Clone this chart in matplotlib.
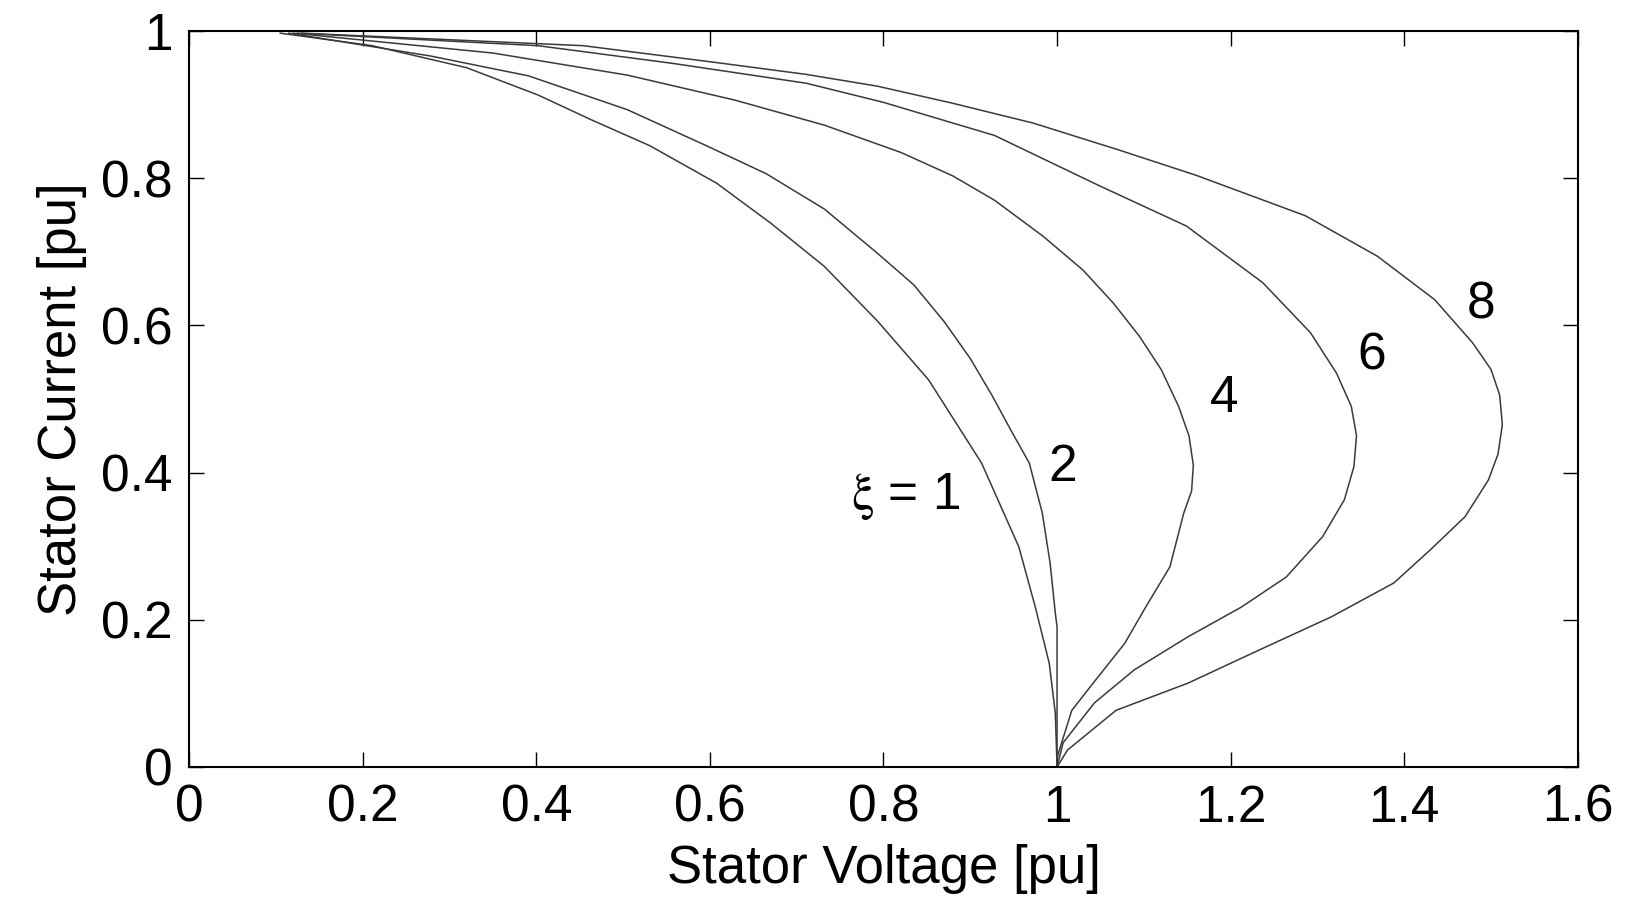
import matplotlib
matplotlib.use("Agg")
import matplotlib.pyplot as plt

plt.rcParams['font.family'] = ['Liberation Sans', 'DejaVu Sans']
plt.rcParams['mathtext.fontset'] = 'stix'

# curves: stator voltage (x) vs stator current (y)
x1 = [0.105, 0.211, 0.32, 0.402, 0.464, 0.531, 0.608, 0.67, 0.732, 0.793, 0.852, 0.913, 0.956, 0.975, 0.991, 0.998, 1.0]
y1 = [0.997, 0.98, 0.95, 0.913, 0.879, 0.844, 0.793, 0.739, 0.68, 0.606, 0.526, 0.413, 0.299, 0.217, 0.141, 0.073, 0.0]

x2 = [0.115, 0.278, 0.391, 0.505, 0.598, 0.665, 0.732, 0.793, 0.835, 0.87, 0.90, 0.925, 0.948, 0.968, 0.983, 0.992, 0.998, 1.0, 1.0]
y2 = [0.997, 0.966, 0.939, 0.893, 0.843, 0.806, 0.758, 0.698, 0.655, 0.605, 0.555, 0.505, 0.455, 0.413, 0.345, 0.277, 0.209, 0.19, 0.0]

x4 = [0.12, 0.35, 0.505, 0.629, 0.732, 0.82, 0.88, 0.928, 0.984, 1.03, 1.065, 1.095, 1.12, 1.14, 1.152, 1.157, 1.155, 1.146, 1.130, 1.102, 1.078, 1.047, 1.017, 1.0, 1.0]
y4 = [0.997, 0.97, 0.94, 0.906, 0.872, 0.835, 0.803, 0.77, 0.721, 0.675, 0.63, 0.585, 0.54, 0.49, 0.45, 0.41, 0.375, 0.345, 0.272, 0.217, 0.168, 0.122, 0.077, 0.013, 0.0]

x6 = [0.125, 0.402, 0.557, 0.711, 0.80, 0.928, 1.050, 1.149, 1.237, 1.292, 1.322, 1.339, 1.345, 1.342, 1.331, 1.306, 1.264, 1.212, 1.151, 1.089, 1.043, 1.007, 1.0]
y6 = [0.997, 0.98, 0.956, 0.929, 0.903, 0.858, 0.789, 0.735, 0.658, 0.590, 0.535, 0.49, 0.45, 0.408, 0.363, 0.313, 0.258, 0.217, 0.177, 0.132, 0.087, 0.033, 0.0]

x8 = [0.13, 0.454, 0.608, 0.711, 0.793, 0.879, 0.972, 1.072, 1.160, 1.286, 1.369, 1.435, 1.479, 1.500, 1.510, 1.513, 1.508, 1.497, 1.470, 1.430, 1.388, 1.316, 1.233, 1.151, 1.068, 1.012, 1.0]
y8 = [0.997, 0.98, 0.957, 0.941, 0.925, 0.902, 0.875, 0.838, 0.804, 0.749, 0.694, 0.635, 0.576, 0.54, 0.505, 0.465, 0.425, 0.39, 0.34, 0.295, 0.250, 0.204, 0.159, 0.114, 0.077, 0.023, 0.0]

curve_labels = ['$\\mathrm{\\xi}$ = 1', '2', '4', '6', '8']
label_x = [0.826, 1.006, 1.192, 1.363, 1.489]
label_y = [0.368, 0.407, 0.501, 0.558, 0.628]

xticks = [0, 0.2, 0.4, 0.6, 0.8, 1, 1.2, 1.4, 1.6]
yticks = [0, 0.2, 0.4, 0.6, 0.8, 1]

fig = plt.figure(figsize=(16.3, 9.08), dpi=100)
ax = fig.add_axes([0.116, 0.1553, 0.852, 0.8106])

for xs, ys in [(x1, y1), (x2, y2), (x4, y4), (x6, y6), (x8, y8)]:
    ax.plot(xs, ys, color='#3a3a3a', lw=1.1)

for t, lx, ly in zip(curve_labels, label_x, label_y):
    ax.text(lx, ly, t, fontsize=37, ha='center', va='center')

ax.set_xlim(0, 1.6)
ax.set_ylim(0, 1)
ax.set_xticks(xticks)
ax.set_yticks(yticks)
ax.set_xticklabels([f'{t:g}' for t in xticks])
ax.set_yticklabels([f'{t:g}' for t in yticks])
ax.tick_params(direction='in', length=11, width=1, top=True, right=True,
               labelsize=37, pad=12)
for s in ax.spines.values():
    s.set_linewidth(1.5)

ax.set_xlabel('Stator Voltage [pu]', fontsize=38, labelpad=8)
ax.set_ylabel('Stator Current [pu]', fontsize=38, labelpad=10)

fig.savefig('out.png', dpi=100)
